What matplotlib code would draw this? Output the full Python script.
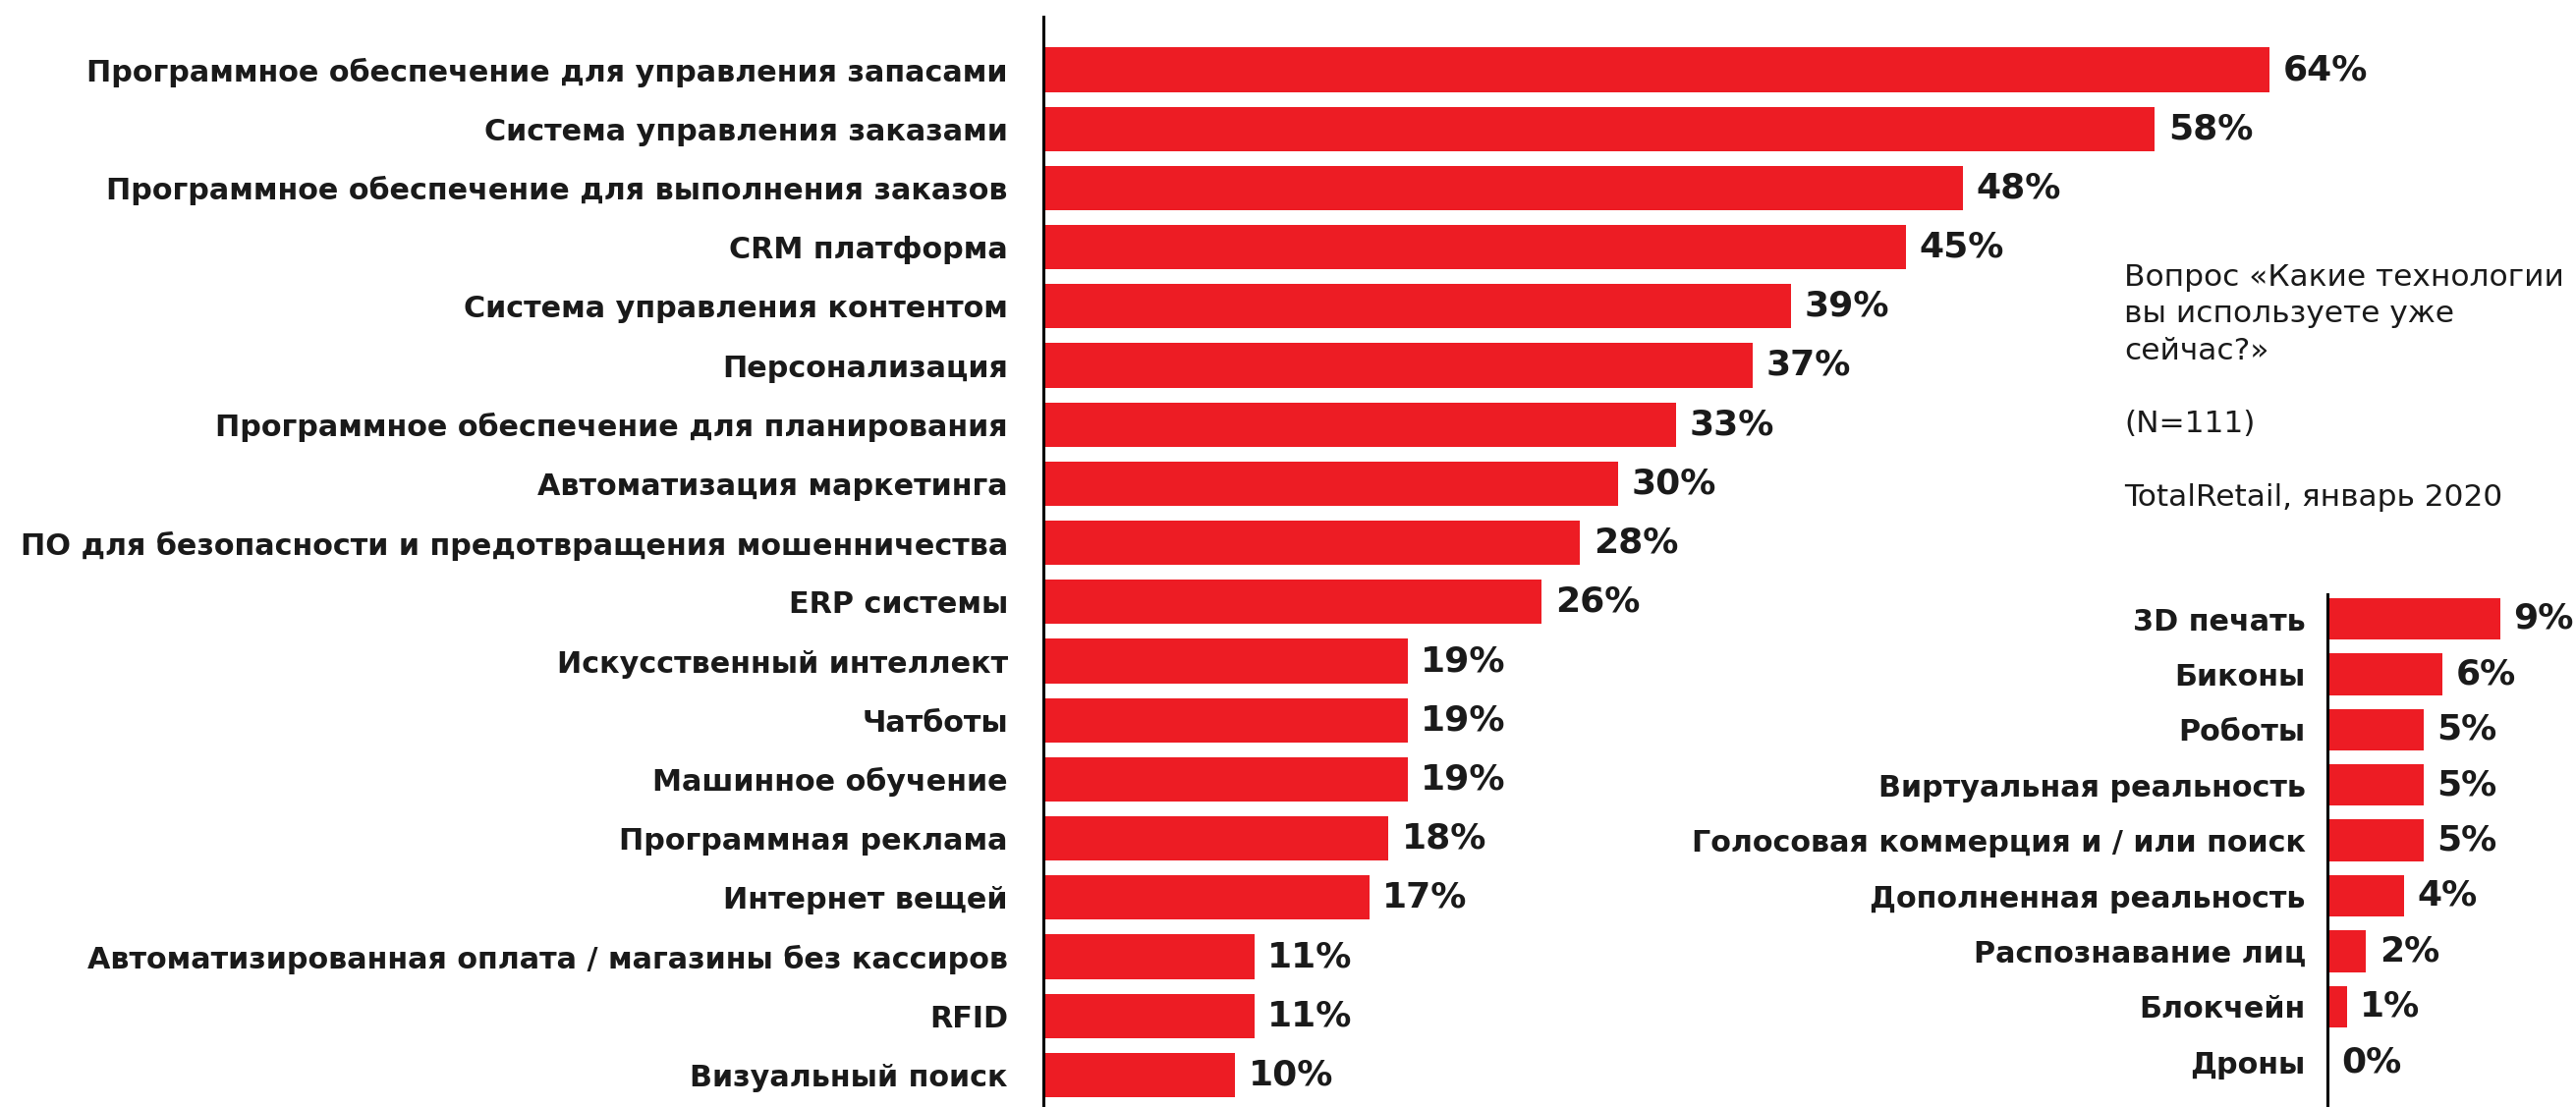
import matplotlib.pyplot as plt

# --- Данные ---------------------------------
main_labels = [
    "Программное обеспечение для управления запасами",
    "Система управления заказами",
    "Программное обеспечение для выполнения заказов",
    "CRM платформа",
    "Система управления контентом",
    "Персонализация",
    "Программное обеспечение для планирования",
    "Автоматизация маркетинга",
    "ПО для безопасности и предотвращения мошенничества",
    "ERP системы",
    "Искусственный интеллект",
    "Чатботы",
    "Машинное обучение",
    "Программная реклама",
    "Интернет вещей",
    "Автоматизированная оплата / магазины без кассиров",
    "RFID",
    "Визуальный поиск",
]
main_values = [64, 58, 48, 45, 39, 37, 33, 30, 28, 26, 19, 19, 19, 18, 17, 11, 11, 10]

small_labels = [
    "3D печать",
    "Биконы",
    "Роботы",
    "Виртуальная реальность",
    "Голосовая коммерция и / или поиск",
    "Дополненная реальность",
    "Распознавание лиц",
    "Блокчейн",
    "Дроны",
]
small_values = [9, 6, 5, 5, 5, 4, 2, 1, 0]

note_text = ("Вопрос «Какие технологии\nвы используете уже\nсейчас?»\n\n"
             "(N=111)\n\nTotalRetail, январь 2020")

# --- Стиль ----------------------------------
RED = "#ED1C24"
DARK = "#1a1a1a"
W, H = 2622, 1127
PX_PER_PCT = 19.5

plt.rcParams["font.family"] = ["DejaVu Sans"]


def setup_axis(ax, labels, values, pad, label_size, value_size):
    y = list(range(len(values)))
    ax.barh(y, values, height=0.75, color=RED)
    ax.set_yticks(y)
    ax.set_yticklabels(labels, fontsize=label_size, fontweight="bold", color=DARK)
    ax.tick_params(axis="y", length=0, pad=pad)
    ax.set_xticks([])
    for s in ["top", "right", "bottom"]:
        ax.spines[s].set_visible(False)
    ax.spines["left"].set_linewidth(2.2)
    ax.spines["left"].set_color("black")
    for yi, v in zip(y, values):
        ax.annotate(f"{v}%", (v, yi), xytext=(10, 0), textcoords="offset points",
                    va="center", ha="left", fontsize=value_size,
                    fontweight="bold", color=DARK, annotation_clip=False)


fig = plt.figure(figsize=(W / 100, H / 100), dpi=100)

# левая панель
x0 = 1062
top_px, first_c, pitch = 17, 71, 60.2
ax1 = fig.add_axes([x0 / W, 0, (W - x0) / W, 1 - top_px / H])
setup_axis(ax1, main_labels, main_values, 26, 21.8, 26)
ax1.set_xlim(0, (W - x0) / PX_PER_PCT)
ax1.set_ylim((H - first_c) / pitch, (top_px - first_c) / pitch)

# правая панель
x2 = 2369
top2, first2, pitch2 = 605, 630, 56.4
ax2 = fig.add_axes([x2 / W, 0, (W - x2) / W, 1 - top2 / H])
setup_axis(ax2, small_labels, small_values, 16, 21.8, 26)
ax2.set_xlim(0, (W - x2) / PX_PER_PCT)
ax2.set_ylim((H - first2) / pitch2, (top2 - first2) / pitch2)

fig.text(2162 / W, 1 - 268 / H, note_text, ha="left", va="top",
         fontsize=22.5, color=DARK, linespacing=1.36)

fig.savefig("out.png", dpi=100)
